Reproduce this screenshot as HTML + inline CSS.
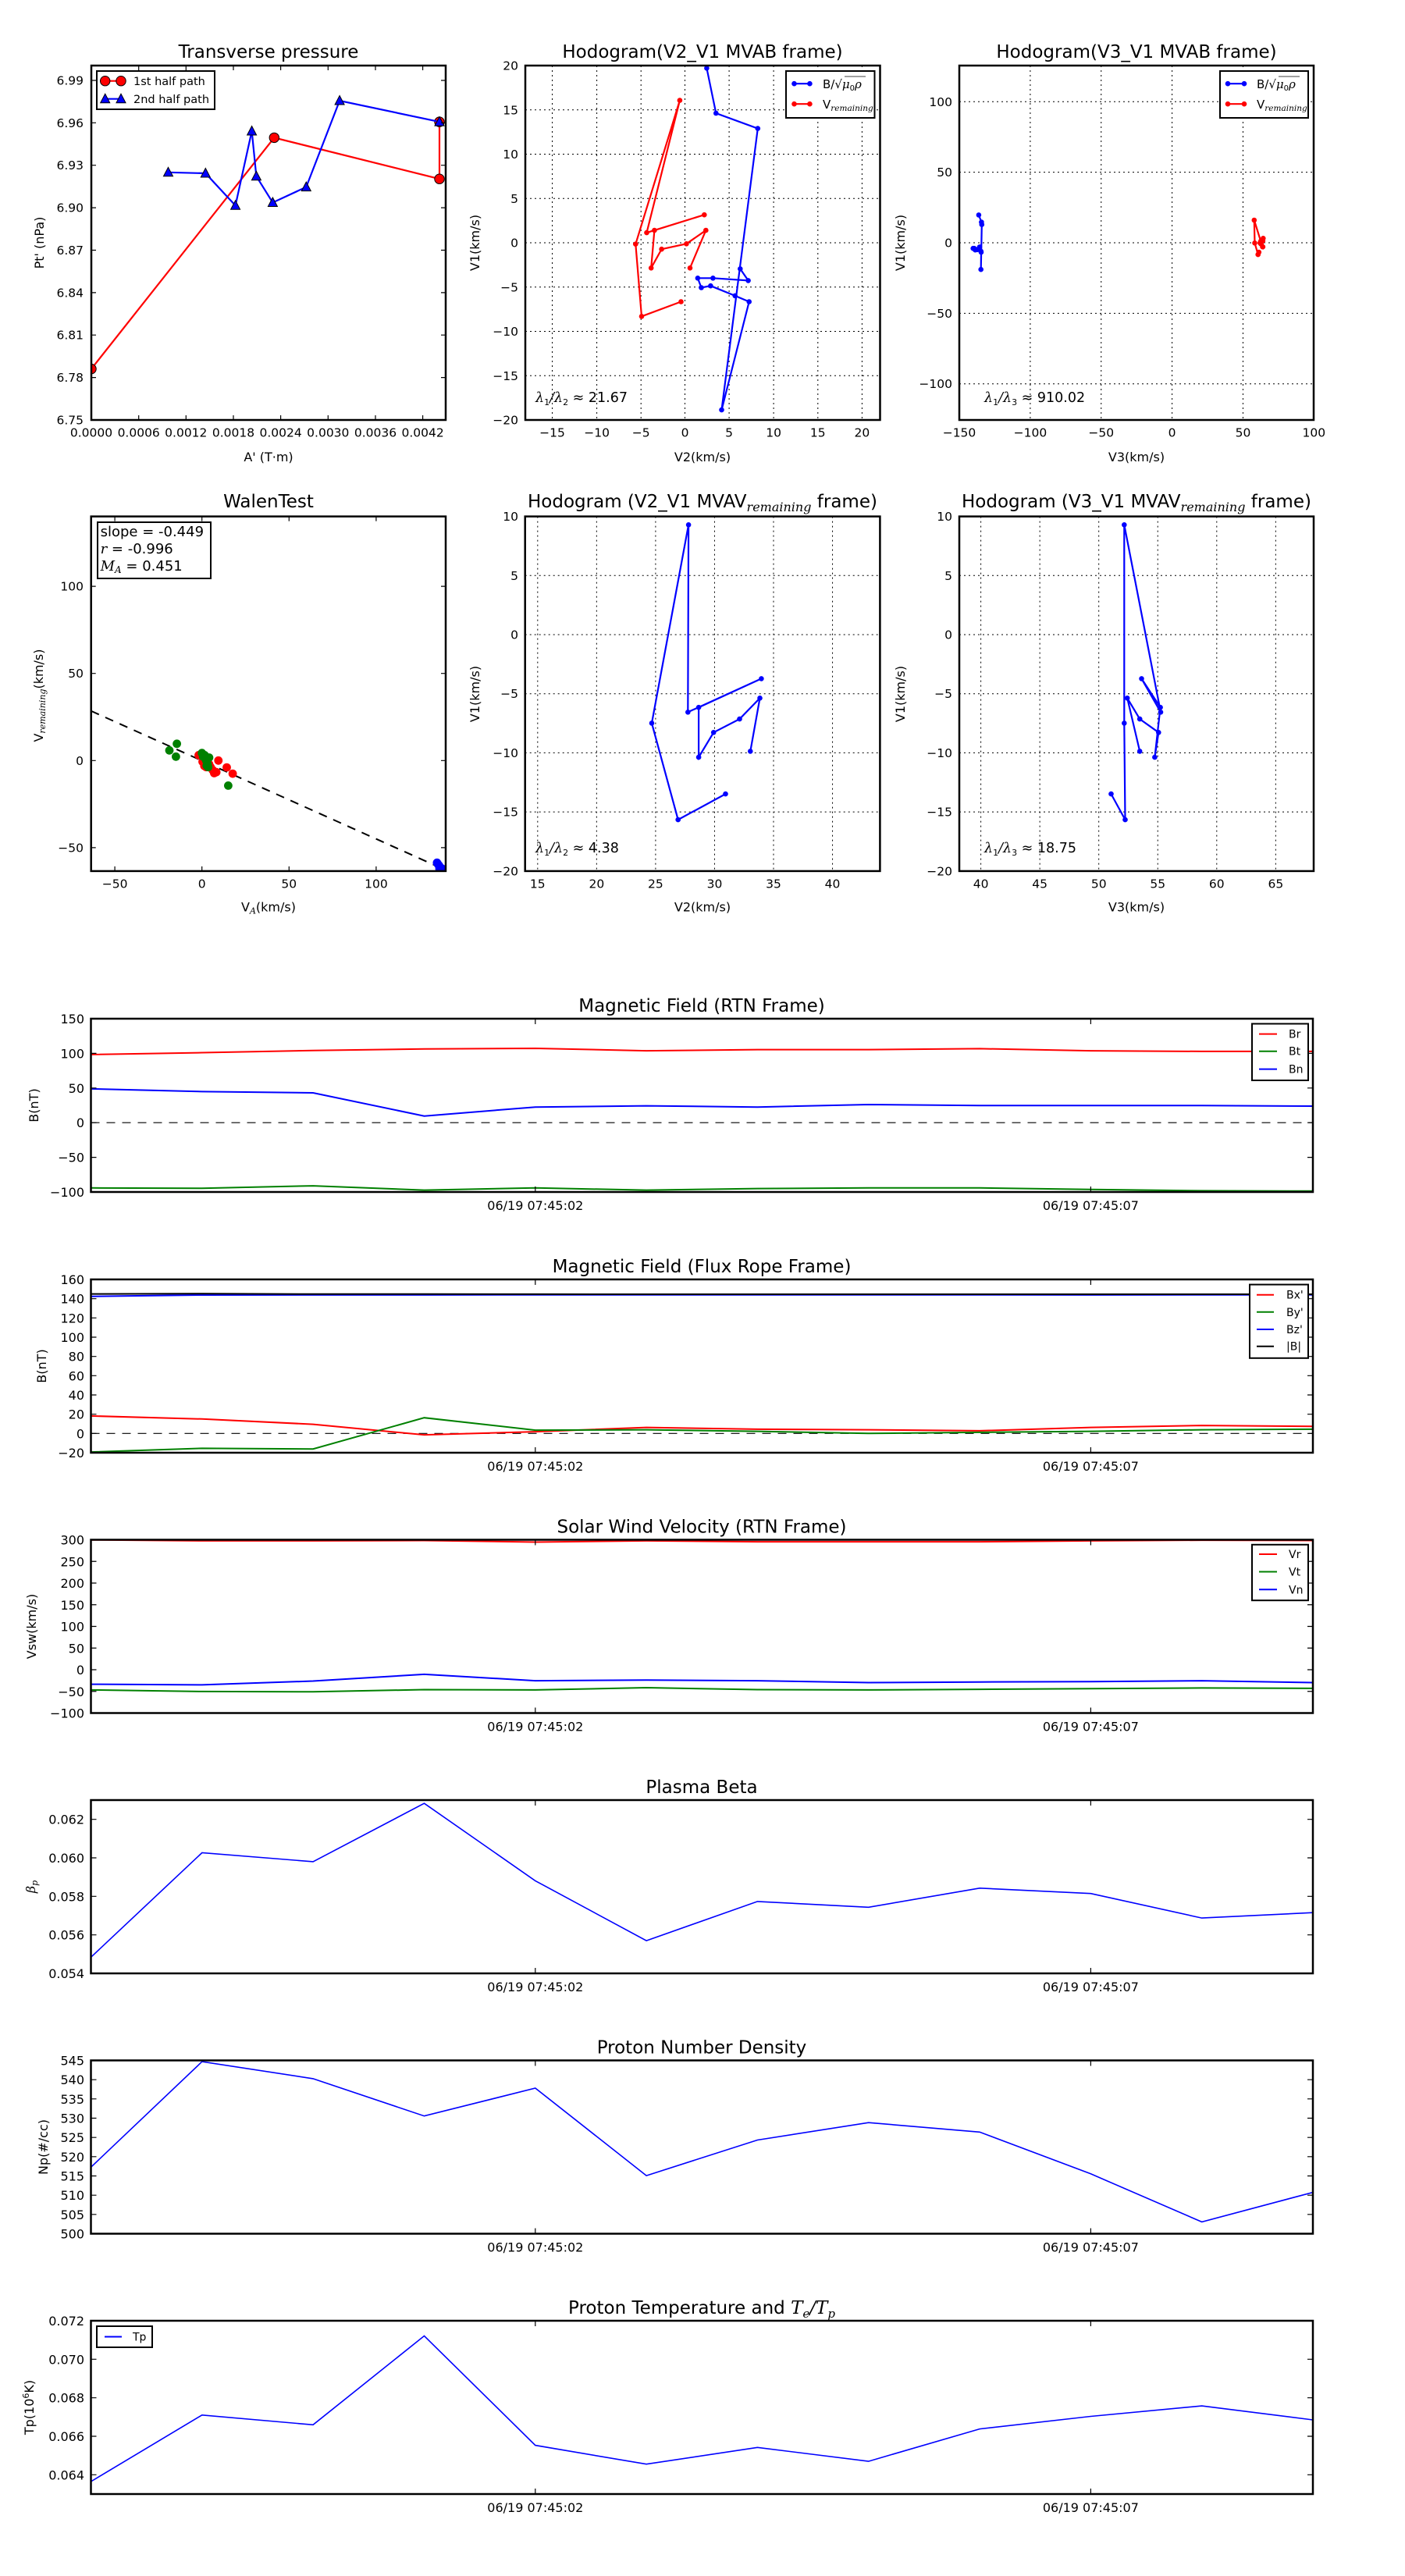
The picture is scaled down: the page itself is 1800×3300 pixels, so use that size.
<!DOCTYPE html>
<html><head><meta charset="utf-8">
<style>
body{margin:0;background:#fff}
svg{display:block}
.t{font-size:15.5px}
.ts{font-size:16px}
.ttl{font-size:23px}
.lab{font-size:16px}
.m{font-family:"DejaVu Serif","Liberation Serif",serif;font-style:italic}
</style></head><body>
<svg xmlns="http://www.w3.org/2000/svg" width="1800" height="3300" viewBox="0 0 1800 3300" font-family="'DejaVu Sans','Liberation Sans',sans-serif" fill="#000">
<rect width="1800" height="3300" fill="#fff"/>
<defs>
<clipPath id="cA1"><rect x="117" y="84" width="454" height="454"/></clipPath>
<clipPath id="cB1"><rect x="116.7" y="661.6" width="454.3" height="454.3"/></clipPath>
<clipPath id="cT"><rect x="116.5" y="0" width="1565.5" height="3300"/></clipPath>
</defs>

<!-- ============ A1 Transverse pressure ============ -->
<text class="ttl" x="344" y="74" text-anchor="middle">Transverse pressure</text>
<g clip-path="url(#cA1)">
<polyline points="117,472.6 351.3,176.4 563,229.2 563,156.1" fill="none" stroke="#f00" stroke-width="2.2"/>
<g fill="#f00" stroke="#000" stroke-width="1">
<circle cx="117" cy="472.6" r="6.2"/><circle cx="351.3" cy="176.4" r="6.2"/><circle cx="563" cy="229.2" r="6.2"/><circle cx="563" cy="156.1" r="6.2"/>
</g>
<polyline points="215.5,220.8 263.3,222 301.6,263.3 322.6,168 328.4,225.8 349.4,259.5 392.3,239.6 435.1,129 563,156.1" fill="none" stroke="#00f" stroke-width="2.2"/>
<g fill="#00f" stroke="#000" stroke-width="1">
<path d="M215.5,214.3L221.5,225.8L209.5,225.8Z"/><path d="M263.3,215.5L269.3,227L257.3,227Z"/><path d="M301.6,256.8L307.6,268.3L295.6,268.3Z"/><path d="M322.6,161.5L328.6,173L316.6,173Z"/><path d="M328.4,219.3L334.4,230.8L322.4,230.8Z"/><path d="M349.4,253L355.4,264.5L343.4,264.5Z"/><path d="M392.3,233.1L398.3,244.6L386.3,244.6Z"/><path d="M435.1,122.5L441.1,134L429.1,134Z"/><path d="M563,149.6L569,161.1L557,161.1Z"/>
</g>
</g>
<path d="M177.7,538v-6M238.3,538v-6M299,538v-6M359.6,538v-6M420.3,538v-6M481,538v-6M541.6,538v-6M177.7,84v6M238.3,84v6M299,84v6M359.6,84v6M420.3,84v6M481,84v6M541.6,84v6M117,483.6h6M117,429.2h6M117,374.9h6M117,320.5h6M117,266.1h6M117,211.7h6M117,157.3h6M117,103h6M571,483.6h-6M571,429.2h-6M571,374.9h-6M571,320.5h-6M571,266.1h-6M571,211.7h-6M571,157.3h-6M571,103h-6" stroke="#000" stroke-width="1.2"/>
<rect x="117" y="84" width="454" height="454" fill="none" stroke="#000" stroke-width="2.5"/>
<g class="t" text-anchor="end">
<text x="107" y="108.5">6.99</text><text x="107" y="162.8">6.96</text><text x="107" y="217.2">6.93</text><text x="107" y="271.6">6.90</text><text x="107" y="326">6.87</text><text x="107" y="380.4">6.84</text><text x="107" y="434.7">6.81</text><text x="107" y="489.1">6.78</text><text x="107" y="543.5">6.75</text>
</g>
<g class="t" text-anchor="middle">
<text x="117" y="559.5">0.0000</text><text x="177.7" y="559.5">0.0006</text><text x="238.3" y="559.5">0.0012</text><text x="299" y="559.5">0.0018</text><text x="359.6" y="559.5">0.0024</text><text x="420.3" y="559.5">0.0030</text><text x="481" y="559.5">0.0036</text><text x="541.6" y="559.5">0.0042</text>
</g>
<text class="lab" x="344" y="591" text-anchor="middle">A' (T·m)</text>
<text class="lab" x="56" y="311" text-anchor="middle" transform="rotate(-90 56 311)">Pt' (nPa)</text>
<rect x="124" y="91" width="151" height="49" fill="#fff" stroke="#000" stroke-width="2"/>
<line x1="134.7" y1="103.7" x2="155" y2="103.7" stroke="#f00" stroke-width="2.2"/>
<circle cx="134.7" cy="103.7" r="6.2" fill="#f00" stroke="#000"/><circle cx="155" cy="103.7" r="6.2" fill="#f00" stroke="#000"/>
<line x1="134.7" y1="126.7" x2="155" y2="126.7" stroke="#00f" stroke-width="2.2"/>
<path d="M134.7,120.2L140.7,131.7L128.7,131.7Z M155,120.2L161,131.7L149,131.7Z" fill="#00f" stroke="#000"/>
<text x="171" y="109" font-size="14.5">1st half path</text>
<text x="171" y="132" font-size="14.5">2nd half path</text>

<!-- ============ A2 Hodogram V2_V1 MVAB ============ -->
<text class="ttl" x="900" y="74" text-anchor="middle">Hodogram(V2_V1 MVAB frame)</text>
<path d="M707.5,84V538M764.6,84V538M821.2,84V538M877.5,84V538M934.1,84V538M991.1,84V538M1047.8,84V538M1104.4,84V538M673,140.75H1127.5M673,197.5H1127.5M673,254.25H1127.5M673,311H1127.5M673,367.75H1127.5M673,424.5H1127.5M673,481.25H1127.5" stroke="#000" stroke-width="1" stroke-dasharray="2 4"/>
<polyline points="905.4,87.3 917.3,145 970.8,164.6 924.5,525.1 959.7,386.5 941.7,378.9 910.4,366.2 898.5,368.5 893.9,356.3 913.4,356.3 958.6,359.4 948.3,344.4" fill="none" stroke="#00f" stroke-width="2.2"/>
<g fill="#00f"><circle cx="905.4" cy="87.3" r="3.3"/><circle cx="917.3" cy="145" r="3.3"/><circle cx="970.8" cy="164.6" r="3.3"/><circle cx="924.5" cy="525.1" r="3.3"/><circle cx="959.7" cy="386.5" r="3.3"/><circle cx="941.7" cy="378.9" r="3.3"/><circle cx="910.4" cy="366.2" r="3.3"/><circle cx="898.5" cy="368.5" r="3.3"/><circle cx="893.9" cy="356.3" r="3.3"/><circle cx="913.4" cy="356.3" r="3.3"/><circle cx="958.6" cy="359.4" r="3.3"/><circle cx="948.3" cy="344.4" r="3.3"/></g>
<polyline points="872.5,386.5 822,405.3 814.3,312.7 870.9,128.6 828.5,298.1 902.3,275.2 838.4,295.1 834.2,343.3 847.6,319.2 879.4,312.3 904.3,295.1 884,343.3" fill="none" stroke="#f00" stroke-width="2.2"/>
<g fill="#f00"><circle cx="872.5" cy="386.5" r="3.3"/><circle cx="822" cy="405.3" r="3.3"/><circle cx="814.3" cy="312.7" r="3.3"/><circle cx="870.9" cy="128.6" r="3.3"/><circle cx="828.5" cy="298.1" r="3.3"/><circle cx="902.3" cy="275.2" r="3.3"/><circle cx="838.4" cy="295.1" r="3.3"/><circle cx="834.2" cy="343.3" r="3.3"/><circle cx="847.6" cy="319.2" r="3.3"/><circle cx="879.4" cy="312.3" r="3.3"/><circle cx="904.3" cy="295.1" r="3.3"/><circle cx="884" cy="343.3" r="3.3"/></g>
<rect x="673" y="84" width="454.5" height="454" fill="none" stroke="#000" stroke-width="2.5"/>
<g class="t" text-anchor="end">
<text x="664" y="89.5">20</text><text x="664" y="146.25">15</text><text x="664" y="203">10</text><text x="664" y="259.75">5</text><text x="664" y="316.5">0</text><text x="664" y="373.25">−5</text><text x="664" y="430">−10</text><text x="664" y="486.75">−15</text><text x="664" y="543.5">−20</text>
</g>
<g class="t" text-anchor="middle">
<text x="707.5" y="559.5">−15</text><text x="764.6" y="559.5">−10</text><text x="821.2" y="559.5">−5</text><text x="877.5" y="559.5">0</text><text x="934.1" y="559.5">5</text><text x="991.1" y="559.5">10</text><text x="1047.8" y="559.5">15</text><text x="1104.4" y="559.5">20</text>
</g>
<text class="lab" x="900" y="591" text-anchor="middle">V2(km/s)</text>
<text class="lab" x="614" y="311" text-anchor="middle" transform="rotate(-90 614 311)">V1(km/s)</text>
<text x="686" y="515" font-size="17.5"><tspan class="m">λ</tspan><tspan font-size="11" dy="4">1</tspan><tspan class="m" dy="-4">/λ</tspan><tspan font-size="11" dy="4">2</tspan><tspan dy="-4"> ≈ 21.67</tspan></text>
<rect x="1007" y="91" width="113.5" height="60" fill="#fff" stroke="#000" stroke-width="2"/>
<line x1="1017.5" y1="107.2" x2="1037.4" y2="107.2" stroke="#00f" stroke-width="2.2"/>
<circle cx="1017.5" cy="107.2" r="3.3" fill="#00f"/><circle cx="1037.4" cy="107.2" r="3.3" fill="#00f"/>
<line x1="1017.5" y1="133.2" x2="1037.4" y2="133.2" stroke="#f00" stroke-width="2.2"/>
<circle cx="1017.5" cy="133.2" r="3.3" fill="#f00"/><circle cx="1037.4" cy="133.2" r="3.3" fill="#f00"/>
<text x="1054" y="113" font-size="15">B/√<tspan class="m">μ</tspan><tspan font-size="10" dy="3">0</tspan><tspan class="m" dy="-3">ρ</tspan></text>
<line x1="1082" y1="98" x2="1109" y2="98" stroke="#000" stroke-width="0.8"/>
<text x="1054" y="139" font-size="15">V<tspan class="m" font-size="10.5" dy="3">remaining</tspan></text>

<!-- ============ A3 Hodogram V3_V1 MVAB ============ -->
<text class="ttl" x="1456" y="74" text-anchor="middle">Hodogram(V3_V1 MVAB frame)</text>
<path d="M1319.9,84V538M1410.75,84V538M1501.6,84V538M1592.45,84V538M1229,130.3H1683M1229,220.65H1683M1229,311H1683M1229,401.35H1683M1229,491.7H1683" stroke="#000" stroke-width="1" stroke-dasharray="2 4"/>
<polyline points="1253.9,275.4 1257.4,284.6 1257.8,287.7 1256.7,345.2 1257,323 1256.7,321.8 1251.9,319.8 1249.4,320.2 1246.7,318.2 1248.1,318.2 1253.9,318.7 1255,316.4" fill="none" stroke="#00f" stroke-width="2.2"/>
<g fill="#00f"><circle cx="1253.9" cy="275.4" r="3.3"/><circle cx="1257.4" cy="284.6" r="3.3"/><circle cx="1257.8" cy="287.7" r="3.3"/><circle cx="1256.7" cy="345.2" r="3.3"/><circle cx="1257" cy="323" r="3.3"/><circle cx="1256.7" cy="321.8" r="3.3"/><circle cx="1251.9" cy="319.8" r="3.3"/><circle cx="1249.4" cy="320.2" r="3.3"/><circle cx="1246.7" cy="318.2" r="3.3"/><circle cx="1248.1" cy="318.2" r="3.3"/><circle cx="1253.9" cy="318.7" r="3.3"/><circle cx="1255" cy="316.4" r="3.3"/></g>
<polyline points="1612.8,323.1 1611.7,326.1 1607.5,311.3 1606.8,282 1615.2,309 1618.3,305.3 1617.5,308.5 1617.5,316.2 1615.2,312.3 1614.3,311.2 1617.9,308.5 1617.9,316.2" fill="none" stroke="#f00" stroke-width="2.2"/>
<g fill="#f00"><circle cx="1612.8" cy="323.1" r="3.3"/><circle cx="1611.7" cy="326.1" r="3.3"/><circle cx="1607.5" cy="311.3" r="3.3"/><circle cx="1606.8" cy="282" r="3.3"/><circle cx="1615.2" cy="309" r="3.3"/><circle cx="1618.3" cy="305.3" r="3.3"/><circle cx="1617.5" cy="308.5" r="3.3"/><circle cx="1617.5" cy="316.2" r="3.3"/><circle cx="1615.2" cy="312.3" r="3.3"/><circle cx="1614.3" cy="311.2" r="3.3"/><circle cx="1617.9" cy="308.5" r="3.3"/><circle cx="1617.9" cy="316.2" r="3.3"/></g>
<rect x="1229" y="84" width="454" height="454" fill="none" stroke="#000" stroke-width="2.5"/>
<g class="t" text-anchor="end">
<text x="1220" y="135.8">100</text><text x="1220" y="226.15">50</text><text x="1220" y="316.5">0</text><text x="1220" y="406.85">−50</text><text x="1220" y="497.2">−100</text>
</g>
<g class="t" text-anchor="middle">
<text x="1229" y="559.5">−150</text><text x="1319.9" y="559.5">−100</text><text x="1410.75" y="559.5">−50</text><text x="1501.6" y="559.5">0</text><text x="1592.45" y="559.5">50</text><text x="1683.3" y="559.5">100</text>
</g>
<text class="lab" x="1456" y="591" text-anchor="middle">V3(km/s)</text>
<text class="lab" x="1159" y="311" text-anchor="middle" transform="rotate(-90 1159 311)">V1(km/s)</text>
<text x="1261" y="515" font-size="17.5"><tspan class="m">λ</tspan><tspan font-size="11" dy="4">1</tspan><tspan class="m" dy="-4">/λ</tspan><tspan font-size="11" dy="4">3</tspan><tspan dy="-4"> ≈ 910.02</tspan></text>
<rect x="1563" y="91" width="113" height="60" fill="#fff" stroke="#000" stroke-width="2"/>
<line x1="1573" y1="107.2" x2="1594" y2="107.2" stroke="#00f" stroke-width="2.2"/>
<circle cx="1573" cy="107.2" r="3.3" fill="#00f"/><circle cx="1594" cy="107.2" r="3.3" fill="#00f"/>
<line x1="1573" y1="133.2" x2="1594" y2="133.2" stroke="#f00" stroke-width="2.2"/>
<circle cx="1573" cy="133.2" r="3.3" fill="#f00"/><circle cx="1594" cy="133.2" r="3.3" fill="#f00"/>
<text x="1610" y="113" font-size="15">B/√<tspan class="m">μ</tspan><tspan font-size="10" dy="3">0</tspan><tspan class="m" dy="-3">ρ</tspan></text>
<line x1="1638" y1="98" x2="1665" y2="98" stroke="#000" stroke-width="0.8"/>
<text x="1610" y="139" font-size="15">V<tspan class="m" font-size="10.5" dy="3">remaining</tspan></text>

<!-- ============ B1 WalenTest ============ -->
<text class="ttl" x="344" y="650" text-anchor="middle">WalenTest</text>
<g clip-path="url(#cB1)">
<line x1="116.7" y1="910.8" x2="571" y2="1114.7" stroke="#000" stroke-width="2" stroke-dasharray="11 9"/>
<g fill="#f00"><circle cx="254.5" cy="967.4" r="5.4"/><circle cx="259.5" cy="975.8" r="5.4"/><circle cx="261.8" cy="981.2" r="5.4"/><circle cx="264.1" cy="982.7" r="5.4"/><circle cx="269.8" cy="982.7" r="5.4"/><circle cx="274.4" cy="990.4" r="5.4"/><circle cx="277.1" cy="989.2" r="5.4"/><circle cx="279.8" cy="974.3" r="5.4"/><circle cx="290.5" cy="983.1" r="5.4"/><circle cx="298.1" cy="991.1" r="5.4"/><circle cx="267.9" cy="978.9" r="5.4"/><circle cx="272.5" cy="986.5" r="5.4"/></g>
<g fill="#008000"><circle cx="226.6" cy="952.8" r="5.4"/><circle cx="217" cy="961.3" r="5.4"/><circle cx="225.4" cy="969.3" r="5.4"/><circle cx="258.7" cy="964.7" r="5.4"/><circle cx="262.2" cy="967.4" r="5.4"/><circle cx="267.9" cy="970.5" r="5.4"/><circle cx="264.1" cy="974.3" r="5.4"/><circle cx="264.8" cy="980.8" r="5.4"/><circle cx="266.7" cy="982.7" r="5.4"/><circle cx="292.4" cy="1006.4" r="5.4"/><circle cx="260.2" cy="969.3" r="5.4"/><circle cx="266" cy="978.9" r="5.4"/></g>
<g fill="#00f"><circle cx="559.9" cy="1105.2" r="5.4"/><circle cx="561.4" cy="1107.5" r="5.4"/><circle cx="562.6" cy="1109" r="5.4"/><circle cx="564.5" cy="1111.7" r="5.4"/><circle cx="566.4" cy="1112.8" r="5.4"/><circle cx="563" cy="1113" r="5.4"/></g>
</g>
<path d="M147.1,1115.9v-6M258.7,1115.9v-6M370.3,1115.9v-6M481.9,1115.9v-6M147.1,661.6v6M258.7,661.6v6M370.3,661.6v6M481.9,661.6v6M116.7,751.1h6M116.7,862.7h6M116.7,974.3h6M116.7,1085.9h6M571,751.1h-6M571,862.7h-6M571,974.3h-6M571,1085.9h-6" stroke="#000" stroke-width="1.2"/>
<rect x="116.7" y="661.6" width="454.3" height="454.3" fill="none" stroke="#000" stroke-width="2.5"/>
<g class="t" text-anchor="end">
<text x="107" y="756.6">100</text><text x="107" y="868.2">50</text><text x="107" y="979.8">0</text><text x="107" y="1091.4">−50</text>
</g>
<g class="t" text-anchor="middle">
<text x="147.1" y="1137.5">−50</text><text x="258.7" y="1137.5">0</text><text x="370.3" y="1137.5">50</text><text x="481.9" y="1137.5">100</text>
</g>
<text class="lab" x="344" y="1167.5" text-anchor="middle">V<tspan class="m" font-size="11" dy="3">A</tspan><tspan dy="-3">(km/s)</tspan></text>
<text class="lab" x="55" y="891" text-anchor="middle" transform="rotate(-90 55 891)">V<tspan class="m" font-size="11" dy="3">remaining</tspan><tspan dy="-3">(km/s)</tspan></text>
<rect x="125" y="669" width="145" height="72" fill="#fff" stroke="#000" stroke-width="2"/>
<text x="128.6" y="687" font-size="18">slope = -0.449</text>
<text x="128.6" y="709" font-size="18"><tspan class="m">r</tspan> = -0.996</text>
<text x="128.6" y="731" font-size="18"><tspan class="m">M</tspan><tspan class="m" font-size="12" dy="3">A</tspan><tspan dy="-3"> = 0.451</tspan></text>

<!-- ============ B2 Hodogram V2_V1 MVAV ============ -->
<text class="ttl" x="900" y="650" text-anchor="middle">Hodogram (V2_V1 MVAV<tspan class="m" font-size="16" dy="5">remaining</tspan><tspan dy="-5"> frame)</tspan></text>
<path d="M688.8,661.6V1115.9M764.35,661.6V1115.9M839.9,661.6V1115.9M915.45,661.6V1115.9M991,661.6V1115.9M1066.55,661.6V1115.9M672.7,737.3H1127.4M672.7,813H1127.4M672.7,888.7H1127.4M672.7,964.4H1127.4M672.7,1040.1H1127.4" stroke="#000" stroke-width="1" stroke-dasharray="2 4"/>
<polyline points="929.5,1017.1 868.7,1050.1 835,926.4 882.1,672.3 881.3,912.3 975.4,869.4 895.1,906.2 895.1,970.1 914.2,938.3 947.5,921.1 973.5,894.3 961.3,962.4" fill="none" stroke="#00f" stroke-width="2.2"/>
<g fill="#00f"><circle cx="929.5" cy="1017.1" r="3.3"/><circle cx="868.7" cy="1050.1" r="3.3"/><circle cx="835" cy="926.4" r="3.3"/><circle cx="882.1" cy="672.3" r="3.3"/><circle cx="881.3" cy="912.3" r="3.3"/><circle cx="975.4" cy="869.4" r="3.3"/><circle cx="895.1" cy="906.2" r="3.3"/><circle cx="895.1" cy="970.1" r="3.3"/><circle cx="914.2" cy="938.3" r="3.3"/><circle cx="947.5" cy="921.1" r="3.3"/><circle cx="973.5" cy="894.3" r="3.3"/><circle cx="961.3" cy="962.4" r="3.3"/></g>
<rect x="672.7" y="661.6" width="454.7" height="454.3" fill="none" stroke="#000" stroke-width="2.5"/>
<g class="t" text-anchor="end">
<text x="664" y="667.1">10</text><text x="664" y="742.8">5</text><text x="664" y="818.5">0</text><text x="664" y="894.2">−5</text><text x="664" y="969.9">−10</text><text x="664" y="1045.6">−15</text><text x="664" y="1121.4">−20</text>
</g>
<g class="t" text-anchor="middle">
<text x="688.8" y="1137.5">15</text><text x="764.35" y="1137.5">20</text><text x="839.9" y="1137.5">25</text><text x="915.45" y="1137.5">30</text><text x="991" y="1137.5">35</text><text x="1066.55" y="1137.5">40</text>
</g>
<text class="lab" x="900" y="1167.5" text-anchor="middle">V2(km/s)</text>
<text class="lab" x="614" y="889" text-anchor="middle" transform="rotate(-90 614 889)">V1(km/s)</text>
<text x="686" y="1092" font-size="17.5"><tspan class="m">λ</tspan><tspan font-size="11" dy="4">1</tspan><tspan class="m" dy="-4">/λ</tspan><tspan font-size="11" dy="4">2</tspan><tspan dy="-4"> ≈ 4.38</tspan></text>

<!-- ============ B3 Hodogram V3_V1 MVAV ============ -->
<text class="ttl" x="1456" y="650" text-anchor="middle">Hodogram (V3_V1 MVAV<tspan class="m" font-size="16" dy="5">remaining</tspan><tspan dy="-5"> frame)</tspan></text>
<path d="M1256.6,661.6V1115.9M1332.15,661.6V1115.9M1407.7,661.6V1115.9M1483.25,661.6V1115.9M1558.8,661.6V1115.9M1634.35,661.6V1115.9M1229,737.3H1683M1229,813H1683M1229,888.7H1683M1229,964.4H1683M1229,1040.1H1683" stroke="#000" stroke-width="1" stroke-dasharray="2 4"/>
<polyline points="1423.5,1017.1 1441.5,1050.1 1440.3,926.4 1440.3,672.3 1487,912.3 1462.5,869.4 1486.6,906.2 1479.4,970.1 1484.3,938.3 1460.2,921.1 1444.2,894.3 1460.2,962.4" fill="none" stroke="#00f" stroke-width="2.2"/>
<g fill="#00f"><circle cx="1423.5" cy="1017.1" r="3.3"/><circle cx="1441.5" cy="1050.1" r="3.3"/><circle cx="1440.3" cy="926.4" r="3.3"/><circle cx="1440.3" cy="672.3" r="3.3"/><circle cx="1487" cy="912.3" r="3.3"/><circle cx="1462.5" cy="869.4" r="3.3"/><circle cx="1486.6" cy="906.2" r="3.3"/><circle cx="1479.4" cy="970.1" r="3.3"/><circle cx="1484.3" cy="938.3" r="3.3"/><circle cx="1460.2" cy="921.1" r="3.3"/><circle cx="1444.2" cy="894.3" r="3.3"/><circle cx="1460.2" cy="962.4" r="3.3"/></g>
<rect x="1229" y="661.6" width="454" height="454.3" fill="none" stroke="#000" stroke-width="2.5"/>
<g class="t" text-anchor="end">
<text x="1220" y="667.1">10</text><text x="1220" y="742.8">5</text><text x="1220" y="818.5">0</text><text x="1220" y="894.2">−5</text><text x="1220" y="969.9">−10</text><text x="1220" y="1045.6">−15</text><text x="1220" y="1121.4">−20</text>
</g>
<g class="t" text-anchor="middle">
<text x="1256.6" y="1137.5">40</text><text x="1332.15" y="1137.5">45</text><text x="1407.7" y="1137.5">50</text><text x="1483.25" y="1137.5">55</text><text x="1558.8" y="1137.5">60</text><text x="1634.35" y="1137.5">65</text>
</g>
<text class="lab" x="1456" y="1167.5" text-anchor="middle">V3(km/s)</text>
<text class="lab" x="1159" y="889" text-anchor="middle" transform="rotate(-90 1159 889)">V1(km/s)</text>
<text x="1261" y="1092" font-size="17.5"><tspan class="m">λ</tspan><tspan font-size="11" dy="4">1</tspan><tspan class="m" dy="-4">/λ</tspan><tspan font-size="11" dy="4">3</tspan><tspan dy="-4"> ≈ 18.75</tspan></text>

<!-- ============ Time series ============ -->
<!-- Panel 1: Magnetic Field RTN -->
<text class="ttl" x="899" y="1296" text-anchor="middle">Magnetic Field (RTN Frame)</text>
<g clip-path="url(#cT)" fill="none" stroke-width="2">
<line x1="116.5" y1="1438.2" x2="1682" y2="1438.2" stroke="#000" stroke-width="1.2" stroke-dasharray="11 9"/>
<polyline stroke="#f00" points="116.5,1350.9 258.8,1348.5 401.1,1345.8 543.5,1343.8 685.8,1343 828.1,1346.1 970.4,1344.6 1112.7,1344.6 1255.1,1343.4 1397.4,1346.1 1539.7,1346.9 1682,1346.9"/>
<polyline stroke="#008000" points="116.5,1521.8 258.8,1522.3 401.1,1519.1 543.5,1524.6 685.8,1521.8 828.1,1524.6 970.4,1522.6 1112.7,1521.8 1255.1,1521.8 1397.4,1523.8 1539.7,1525.4 1682,1525.8"/>
<polyline stroke="#00f" points="116.5,1394.9 258.8,1398.4 401.1,1400 543.5,1429.7 685.8,1418.2 828.1,1416.6 970.4,1418.2 1112.7,1415 1255.1,1416.2 1397.4,1416.2 1539.7,1416.2 1682,1417"/>
</g>
<path d="M116.5,1349.4h7M116.5,1393.8h7M116.5,1438.2h7M116.5,1482.6h7M1682,1349.4h-7M1682,1393.8h-7M1682,1438.2h-7M1682,1482.6h-7M685.8,1305v7M1397.4,1305v7M685.8,1527v-7M1397.4,1527v-7" stroke="#000" stroke-width="1.2"/>
<rect x="116.5" y="1305" width="1565.5" height="222" fill="none" stroke="#000" stroke-width="2.5"/>
<g class="ts" text-anchor="end">
<text x="108" y="1311">150</text><text x="108" y="1355.4">100</text><text x="108" y="1399.8">50</text><text x="108" y="1444.2">0</text><text x="108" y="1488.6">−50</text><text x="108" y="1533">−100</text>
</g>
<g class="ts" text-anchor="middle"><text x="685.8" y="1550">06/19 07:45:02</text><text x="1397.4" y="1550">06/19 07:45:07</text></g>
<text class="lab" x="49" y="1416" text-anchor="middle" transform="rotate(-90 49 1416)">B(nT)</text>
<rect x="1604" y="1311.5" width="72" height="72.5" fill="#fff" stroke="#000" stroke-width="2"/>
<line x1="1613" y1="1324.6" x2="1636" y2="1324.6" stroke="#f00" stroke-width="2"/>
<line x1="1613" y1="1346.7" x2="1636" y2="1346.7" stroke="#008000" stroke-width="2"/>
<line x1="1613" y1="1369.6" x2="1636" y2="1369.6" stroke="#00f" stroke-width="2"/>
<g font-size="14"><text x="1651" y="1329.6">Br</text><text x="1651" y="1351.7">Bt</text><text x="1651" y="1374.6">Bn</text></g>

<!-- Panel 2: Flux Rope Frame -->
<text class="ttl" x="899" y="1630" text-anchor="middle">Magnetic Field (Flux Rope Frame)</text>
<g clip-path="url(#cT)" fill="none" stroke-width="2">
<line x1="116.5" y1="1836.3" x2="1682" y2="1836.3" stroke="#000" stroke-width="1.2" stroke-dasharray="11 9"/>
<polyline stroke="#f00" points="116.5,1813.9 258.8,1817.8 401.1,1824.6 543.5,1838.1 685.8,1834.1 828.1,1828.6 970.4,1830.9 1112.7,1831.6 1255.1,1832.9 1397.4,1828.6 1539.7,1826.1 1682,1827.3"/>
<polyline stroke="#008000" points="116.5,1860.1 258.8,1855.4 401.1,1856.2 543.5,1816.2 685.8,1832.1 828.1,1831.6 970.4,1833.6 1112.7,1836.3 1255.1,1834.9 1397.4,1833.6 1539.7,1831.6 1682,1830.9"/>
<polyline stroke="#00f" points="116.5,1660.7 258.8,1659 401.1,1658.9 543.5,1658.9 685.8,1658.7 828.1,1658.7 970.4,1658.7 1112.7,1658.7 1255.1,1658.7 1397.4,1658.9 1539.7,1658.7 1682,1658.7"/>
<polyline stroke="#000" points="116.5,1657.6 258.8,1657.3 401.1,1657.8 543.5,1657.8 685.8,1657.9 828.1,1658 970.4,1658 1112.7,1658 1255.1,1658 1397.4,1658 1539.7,1658 1682,1658"/>
</g>
<path d="M116.5,1663.7h7M116.5,1688.3h7M116.5,1713h7M116.5,1737.7h7M116.5,1762.3h7M116.5,1787h7M116.5,1811.7h7M116.5,1836.3h7M1682,1663.7h-7M1682,1688.3h-7M1682,1713h-7M1682,1737.7h-7M1682,1762.3h-7M1682,1787h-7M1682,1811.7h-7M1682,1836.3h-7M685.8,1639v7M1397.4,1639v7M685.8,1861v-7M1397.4,1861v-7" stroke="#000" stroke-width="1.2"/>
<rect x="116.5" y="1639" width="1565.5" height="222" fill="none" stroke="#000" stroke-width="2.5"/>
<g class="ts" text-anchor="end">
<text x="108" y="1645">160</text><text x="108" y="1669.7">140</text><text x="108" y="1694.3">120</text><text x="108" y="1719">100</text><text x="108" y="1743.7">80</text><text x="108" y="1768.3">60</text><text x="108" y="1793">40</text><text x="108" y="1817.7">20</text><text x="108" y="1842.3">0</text><text x="108" y="1867">−20</text>
</g>
<g class="ts" text-anchor="middle"><text x="685.8" y="1884">06/19 07:45:02</text><text x="1397.4" y="1884">06/19 07:45:07</text></g>
<text class="lab" x="59" y="1750" text-anchor="middle" transform="rotate(-90 59 1750)">B(nT)</text>
<rect x="1601" y="1645.6" width="75" height="94.2" fill="#fff" stroke="#000" stroke-width="2"/>
<line x1="1610" y1="1658.7" x2="1632" y2="1658.7" stroke="#f00" stroke-width="2"/>
<line x1="1610" y1="1680.8" x2="1632" y2="1680.8" stroke="#008000" stroke-width="2"/>
<line x1="1610" y1="1703" x2="1632" y2="1703" stroke="#00f" stroke-width="2"/>
<line x1="1610" y1="1724.7" x2="1632" y2="1724.7" stroke="#000" stroke-width="2"/>
<g font-size="14"><text x="1648" y="1663.7">Bx'</text><text x="1648" y="1685.8">By'</text><text x="1648" y="1708">Bz'</text><text x="1648" y="1729.7">|B|</text></g>

<!-- Panel 3: Solar Wind Velocity -->
<text class="ttl" x="899" y="1963.5" text-anchor="middle">Solar Wind Velocity (RTN Frame)</text>
<g clip-path="url(#cT)" fill="none" stroke-width="2">
<polyline stroke="#f00" points="116.5,1972.7 258.8,1973.9 401.1,1973.9 543.5,1973.5 685.8,1975.5 828.1,1973.9 970.4,1975.1 1112.7,1975.1 1255.1,1975.1 1397.4,1973.9 1539.7,1973.1 1682,1973.5"/>
<polyline stroke="#008000" points="116.5,2164.9 258.8,2166.9 401.1,2167.3 543.5,2164.5 685.8,2164.9 828.1,2162 970.4,2164.5 1112.7,2164.9 1255.1,2164.1 1397.4,2163.3 1539.7,2162.4 1682,2162.9"/>
<polyline stroke="#00f" points="116.5,2157.6 258.8,2158.4 401.1,2153.5 543.5,2144.9 685.8,2153.1 828.1,2152.2 970.4,2153.1 1112.7,2155.5 1255.1,2154.7 1397.4,2154.3 1539.7,2153.1 1682,2155.5"/>
</g>
<path d="M116.5,2000.25h7M116.5,2028h7M116.5,2055.75h7M116.5,2083.5h7M116.5,2111.25h7M116.5,2139h7M116.5,2166.75h7M1682,2000.25h-7M1682,2028h-7M1682,2055.75h-7M1682,2083.5h-7M1682,2111.25h-7M1682,2139h-7M1682,2166.75h-7M685.8,1972.5v7M1397.4,1972.5v7M685.8,2194.5v-7M1397.4,2194.5v-7" stroke="#000" stroke-width="1.2"/>
<rect x="116.5" y="1972.5" width="1565.5" height="222" fill="none" stroke="#000" stroke-width="2.5"/>
<g class="ts" text-anchor="end">
<text x="108" y="1978.5">300</text><text x="108" y="2006.25">250</text><text x="108" y="2034">200</text><text x="108" y="2061.75">150</text><text x="108" y="2089.5">100</text><text x="108" y="2117.25">50</text><text x="108" y="2145">0</text><text x="108" y="2172.75">−50</text><text x="108" y="2200.5">−100</text>
</g>
<g class="ts" text-anchor="middle"><text x="685.8" y="2217.5">06/19 07:45:02</text><text x="1397.4" y="2217.5">06/19 07:45:07</text></g>
<text class="lab" x="46" y="2083.5" text-anchor="middle" transform="rotate(-90 46 2083.5)">Vsw(km/s)</text>
<rect x="1604" y="1978.8" width="72" height="71.4" fill="#fff" stroke="#000" stroke-width="2"/>
<line x1="1613" y1="1991" x2="1636" y2="1991" stroke="#f00" stroke-width="2"/>
<line x1="1613" y1="2013.5" x2="1636" y2="2013.5" stroke="#008000" stroke-width="2"/>
<line x1="1613" y1="2036.3" x2="1636" y2="2036.3" stroke="#00f" stroke-width="2"/>
<g font-size="14"><text x="1651" y="1996">Vr</text><text x="1651" y="2018.5">Vt</text><text x="1651" y="2041.3">Vn</text></g>

<!-- Panel 4: Plasma Beta -->
<text class="ttl" x="899" y="2297" text-anchor="middle">Plasma Beta</text>
<polyline clip-path="url(#cT)" fill="none" stroke="#00f" stroke-width="1.6" points="116.5,2507.3 258.8,2373.5 401.1,2384.9 543.5,2310.2 685.8,2409.4 828.1,2486.1 970.4,2435.9 1112.7,2443.3 1255.1,2418.8 1397.4,2425.7 1539.7,2457.1 1682,2450.2"/>
<path d="M116.5,2330.7h7M116.5,2380h7M116.5,2429.3h7M116.5,2478.7h7M1682,2330.7h-7M1682,2380h-7M1682,2429.3h-7M1682,2478.7h-7M685.8,2306v7M1397.4,2306v7M685.8,2528v-7M1397.4,2528v-7" stroke="#000" stroke-width="1.2"/>
<rect x="116.5" y="2306" width="1565.5" height="222" fill="none" stroke="#000" stroke-width="2.5"/>
<g class="ts" text-anchor="end">
<text x="108" y="2336.7">0.062</text><text x="108" y="2386">0.060</text><text x="108" y="2435.3">0.058</text><text x="108" y="2484.7">0.056</text><text x="108" y="2534">0.054</text>
</g>
<g class="ts" text-anchor="middle"><text x="685.8" y="2551">06/19 07:45:02</text><text x="1397.4" y="2551">06/19 07:45:07</text></g>
<text x="45" y="2417" font-size="16" text-anchor="middle" transform="rotate(-90 45 2417)"><tspan class="m">β</tspan><tspan class="m" font-size="11" dy="3">p</tspan></text>

<!-- Panel 5: Proton Number Density -->
<text class="ttl" x="899" y="2630.5" text-anchor="middle">Proton Number Density</text>
<polyline clip-path="url(#cT)" fill="none" stroke="#00f" stroke-width="1.6" points="116.5,2776.3 258.8,2641.1 401.1,2662.9 543.5,2710.7 685.8,2675 828.1,2787.1 970.4,2741.5 1112.7,2719.2 1255.1,2731.3 1397.4,2784.8 1539.7,2846.4 1682,2808.5"/>
<path d="M116.5,2664.2h7M116.5,2688.8h7M116.5,2713.5h7M116.5,2738.2h7M116.5,2762.8h7M116.5,2787.5h7M116.5,2812.2h7M116.5,2836.8h7M1682,2664.2h-7M1682,2688.8h-7M1682,2713.5h-7M1682,2738.2h-7M1682,2762.8h-7M1682,2787.5h-7M1682,2812.2h-7M1682,2836.8h-7M685.8,2639.5v7M1397.4,2639.5v7M685.8,2861.5v-7M1397.4,2861.5v-7" stroke="#000" stroke-width="1.2"/>
<rect x="116.5" y="2639.5" width="1565.5" height="222" fill="none" stroke="#000" stroke-width="2.5"/>
<g class="ts" text-anchor="end">
<text x="108" y="2645.5">545</text><text x="108" y="2670.2">540</text><text x="108" y="2694.8">535</text><text x="108" y="2719.5">530</text><text x="108" y="2744.2">525</text><text x="108" y="2768.8">520</text><text x="108" y="2793.5">515</text><text x="108" y="2818.2">510</text><text x="108" y="2842.8">505</text><text x="108" y="2867.5">500</text>
</g>
<g class="ts" text-anchor="middle"><text x="685.8" y="2884.5">06/19 07:45:02</text><text x="1397.4" y="2884.5">06/19 07:45:07</text></g>
<text class="lab" x="61" y="2750.5" text-anchor="middle" transform="rotate(-90 61 2750.5)">Np(#/cc)</text>

<!-- Panel 6: Proton Temperature -->
<text class="ttl" x="899" y="2964" text-anchor="middle">Proton Temperature and <tspan class="m">T</tspan><tspan class="m" font-size="15" dy="5">e</tspan><tspan class="m" dy="-5">/T</tspan><tspan class="m" font-size="15" dy="5">p</tspan></text>
<polyline clip-path="url(#cT)" fill="none" stroke="#00f" stroke-width="1.6" points="116.5,3179 258.8,3093.8 401.1,3106.3 543.5,2992.4 685.8,3132.6 828.1,3156.7 970.4,3135.3 1112.7,3153.1 1255.1,3111.6 1397.4,3095.5 1539.7,3082.1 1682,3100"/>
<path d="M116.5,3022.3h7M116.5,3071.7h7M116.5,3121h7M116.5,3170.3h7M1682,3022.3h-7M1682,3071.7h-7M1682,3121h-7M1682,3170.3h-7M685.8,2973v7M1397.4,2973v7M685.8,3195v-7M1397.4,3195v-7" stroke="#000" stroke-width="1.2"/>
<rect x="116.5" y="2973" width="1565.5" height="222" fill="none" stroke="#000" stroke-width="2.5"/>
<g class="ts" text-anchor="end">
<text x="108" y="2979">0.072</text><text x="108" y="3028.3">0.070</text><text x="108" y="3077.7">0.068</text><text x="108" y="3127">0.066</text><text x="108" y="3176.3">0.064</text>
</g>
<g class="ts" text-anchor="middle"><text x="685.8" y="3218">06/19 07:45:02</text><text x="1397.4" y="3218">06/19 07:45:07</text></g>
<text class="lab" x="43" y="3084" text-anchor="middle" transform="rotate(-90 43 3084)">Tp(10<tspan font-size="11" dy="-6">6</tspan><tspan dy="6">K)</tspan></text>
<rect x="124" y="2980" width="71" height="27" fill="#fff" stroke="#000" stroke-width="2"/>
<line x1="134" y1="2993.5" x2="156" y2="2993.5" stroke="#00f" stroke-width="2"/>
<text x="170" y="2998.5" font-size="14">Tp</text>
</svg>
</body></html>
